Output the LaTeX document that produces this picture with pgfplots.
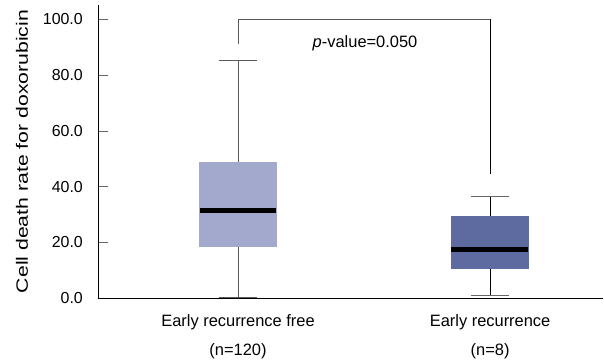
\documentclass[border=0pt]{standalone}
\usepackage{fontspec}
\setmainfont{Liberation Sans}
\usepackage{graphicx}
\usepackage{pgfplots}
\pgfplotsset{compat=1.18}
\definecolor{boxA}{HTML}{A3A9CC}
\definecolor{boxB}{HTML}{5E6BA0}
\definecolor{whiskA}{HTML}{5A5A5A}
\begin{document}
\begin{tikzpicture}
\begin{axis}[
  name=ax,
  scale only axis,
  width=505bp, height=293bp,
  xmin=0.4444, xmax=2.448,
  ymin=0, ymax=105.2,
  axis x line*=bottom, axis y line*=left,
  axis line style={-, black, line width=0.8pt},
  xtick={1,2},
  xticklabels={Early recurrence free\\(n=120), Early recurrence\\(n=8)},
  x tick label style={align=center, font=\fontsize{16.5}{30}\selectfont, anchor=north, inner sep=0pt, yshift=-16bp},
  major x tick style={draw=none},
  ytick={0,20,40,60,80,100},
  y tick label style={font=\fontsize{16}{19}\selectfont, inner sep=0pt},
  yticklabel shift=15bp,
  /pgf/number format/fixed, /pgf/number format/fixed zerofill,
  /pgf/number format/precision=1, /pgf/number format/assume math mode=true,
  major tick length=10bp,
  tick align=inside,
  major y tick style={gray!80!black, line width=0.7pt},
  ylabel={\resizebox{283bp}{\height}{Cell death rate for doxorubicin}},
  ylabel style={font=\fontsize{16.5}{19}\selectfont, at={(axis description cs:0,0.5)}, anchor=center, inner sep=0pt, yshift=76bp},
  clip=false,
]
% group 1 (early recurrence free)
\addplot[whiskA, line width=0.9pt] coordinates {(1,0) (1,18.3)};
\addplot[whiskA, line width=0.9pt] coordinates {(1,48.9) (1,85.2)};
\addplot[whiskA, line width=0.9pt] coordinates {(0.925,85.2) (1.075,85.2)};
\addplot[whiskA, line width=0.9pt] coordinates {(0.925,0.15) (1.075,0.15)};
\addplot[fill=boxA, draw=none] coordinates {(0.845,18.3) (1.155,18.3) (1.155,48.9) (0.845,48.9)} --cycle;
\addplot[black, line width=5bp] coordinates {(0.85,31.4) (1.15,31.4)};
% group 2 (early recurrence)
\addplot[black, line width=0.9pt] coordinates {(2,0.8) (2,10.3)};
\addplot[black, line width=0.9pt] coordinates {(2,29.5) (2,36.6)};
\addplot[gray!80!black, line width=0.9pt] coordinates {(1.925,36.6) (2.075,36.6)};
\addplot[gray!80!black, line width=0.9pt] coordinates {(1.925,0.8) (2.075,0.8)};
\addplot[fill=boxB, draw=none] coordinates {(1.845,10.3) (2.155,10.3) (2.155,29.5) (1.845,29.5)} --cycle;
\addplot[black, line width=5bp] coordinates {(1.845,17.3) (2.15,17.3)};
% significance bracket
\addplot[whiskA, line width=0.9pt] coordinates {(1,91.2) (1,100) (2,100)};
\addplot[black, line width=0.9pt] coordinates {(2,100) (2,44.6)};
\node[font=\fontsize{16.5}{19}\selectfont] at (axis cs:1.504,91.6) {\textit{p}-value=0.050};
\end{axis}
\pgfresetboundingbox
\useasboundingbox (ax.south west) ++(-98bp,-66bp) rectangle ++(604bp,364bp);
\end{tikzpicture}
\end{document}
